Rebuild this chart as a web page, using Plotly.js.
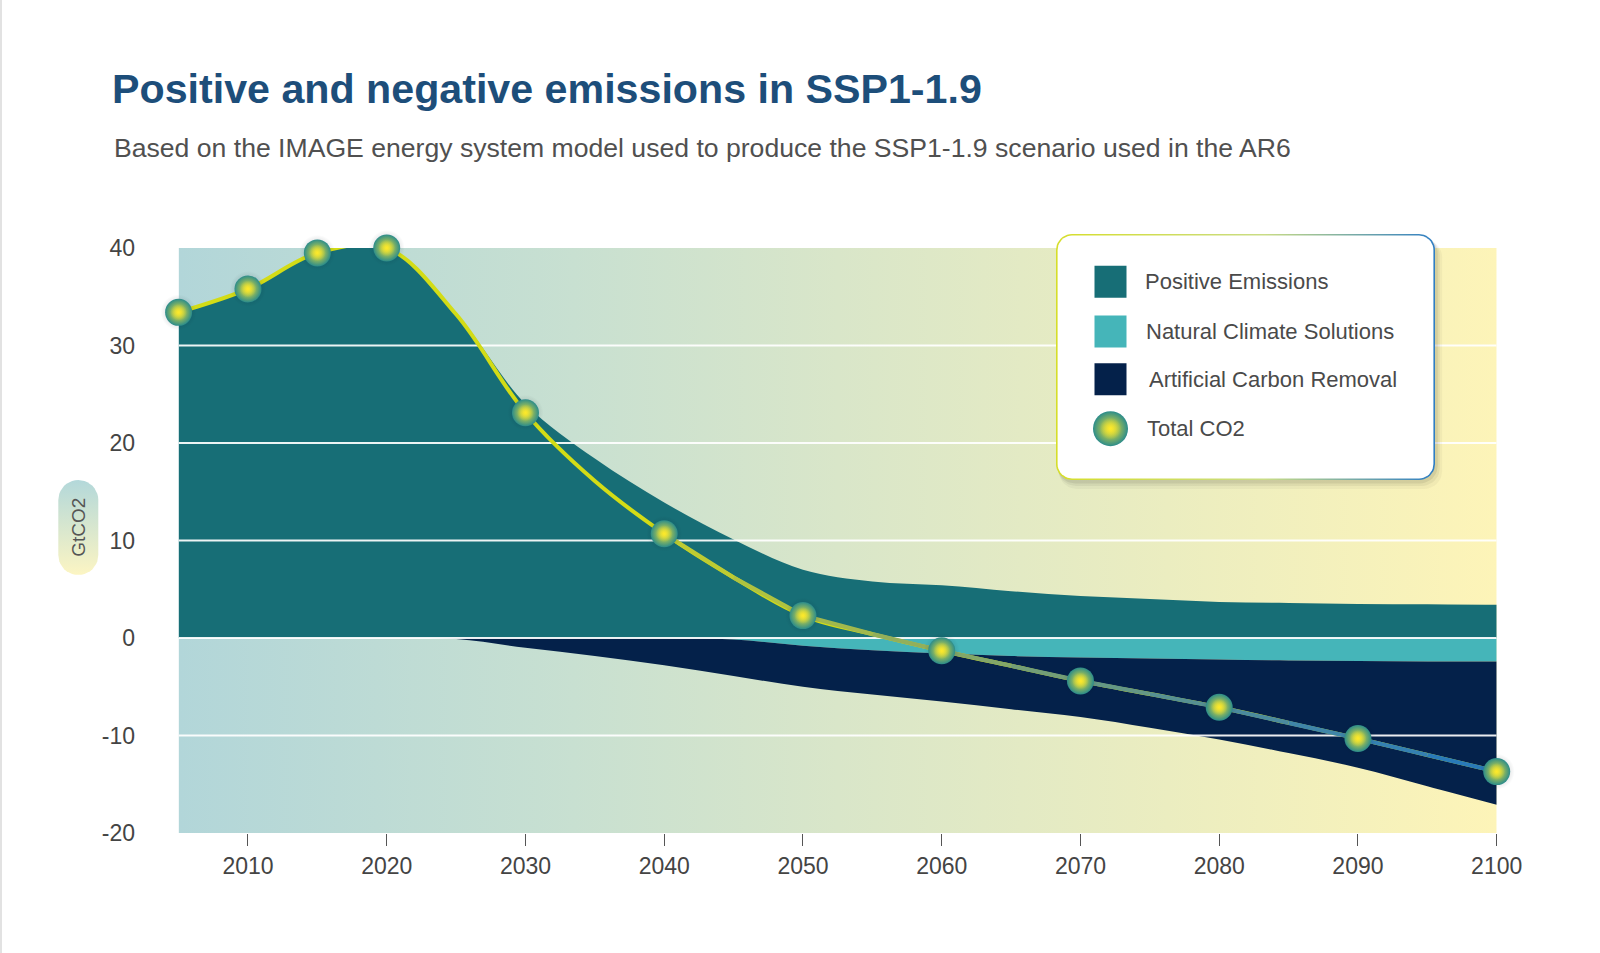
<!DOCTYPE html>
<html>
<head>
<meta charset="utf-8">
<script src="https://cdn.plot.ly/plotly-3.0.1.min.js"></script>
<style>
html,body{margin:0;padding:0;background:#ffffff;}
#chart{width:1600px;height:953px;}
</style>
</head>
<body>
<div id="chart"></div>
<script>
// ---------------- DATA ----------------
const years = [2005, 2010, 2015, 2020, 2025, 2030, 2035, 2040, 2045, 2050,
               2055, 2060, 2065, 2070, 2075, 2080, 2085, 2090, 2095, 2100];
const positiveEmissions = [33.4, 35.8, 39.5, 40.0, 33.3, 24.0, 18.4, 13.9, 10.1, 7.0,
                           5.8, 5.4, 4.8, 4.3, 4.0, 3.7, 3.6, 3.5, 3.45, 3.4];
const naturalClimateSolutions = [0, 0, 0, 0, 0, 0, 0, 0, -0.15, -0.8,
                                 -1.25, -1.6, -1.85, -2.0, -2.1, -2.2, -2.3, -2.35, -2.4, -2.4];
const artificialCarbonRemoval = [0, 0, 0, 0, -0.1, -1.0, -1.85, -2.8, -3.75, -4.2,
                                 -4.55, -4.9, -5.45, -6.1, -7.1, -8.2, -9.5, -10.95, -12.8, -14.7];
const totalCO2 = [33.4, 35.8, 39.5, 40.0, 33.2, 23.1, 16.1, 10.7, 6.2, 2.3,
                  0.4, -1.3, -2.85, -4.4, -5.75, -7.1, -8.7, -10.3, -12.0, -13.7];
const markerYears = [2005, 2010, 2015, 2020, 2030, 2040, 2050, 2060, 2070, 2080, 2090, 2100];
const xTicks = [2010, 2020, 2030, 2040, 2050, 2060, 2070, 2080, 2090, 2100];
const yTicks = [-20, -10, 0, 10, 20, 30, 40];
const legendLabels = ['Positive Emissions', 'Natural Climate Solutions', 'Artificial Carbon Removal', 'Total CO2'];
const titleText = 'Positive and negative emissions in SSP1-1.9';
const subtitleText = 'Based on the IMAGE energy system model used to produce the SSP1-1.9 scenario used in the AR6';
const yTitle = 'GtCO2';

// ---------------- STYLE ----------------
const FONT = 'Liberation Sans, Arial, Helvetica, sans-serif';
const C_POS = '#176e76';
const C_NCS = '#45b5b9';
const C_ACR = '#04214a';
const M_CENTER = '#fde92a';
const M_EDGE = '#2b8c8b';
const W = 1600, H = 953;
const PLOT = {l: 178.6, r: 1496.7, t: 248, b: 833};
const lineStops = [[2005, '#d3dc16'], [2040, '#c4d02c'], [2050, '#a8bd46'], [2060, '#8aaa62'],
                   [2070, '#6b9a7e'], [2080, '#4f8c99'], [2090, '#3983ad'], [2100, '#2477bb']];

function hexToRgb(h){ return [parseInt(h.slice(1,3),16), parseInt(h.slice(3,5),16), parseInt(h.slice(5,7),16)]; }
function colorAt(yr){
  for (let i = 0; i < lineStops.length - 1; i++){
    const [a, ca] = lineStops[i], [b, cb] = lineStops[i+1];
    if (yr >= a && yr <= b){
      const t = (yr - a) / (b - a), A = hexToRgb(ca), B = hexToRgb(cb);
      return 'rgb(' + A.map((v,k)=>Math.round(v + (B[k]-v)*t)).join(',') + ')';
    }
  }
  return lineStops[lineStops.length-1][1];
}
function roundedRect(x0, y0, x1, y1, r){
  const xs = [], ys = [];
  const corners = [[x1-r, y0+r, -90, 0], [x1-r, y1-r, 0, 90], [x0+r, y1-r, 90, 180], [x0+r, y0+r, 180, 270]];
  corners.forEach(([cx, cy, a0, a1]) => {
    for (let k = 0; k <= 10; k++){
      const a = (a0 + (a1-a0)*k/10) * Math.PI/180;
      xs.push(cx + r*Math.cos(a)); ys.push(cy + r*Math.sin(a));
    }
  });
  xs.push(xs[0]); ys.push(ys[0]);
  return {x: xs, y: ys};
}

const xMin = years[0], xMax = years[years.length-1];
const yMin = Math.min(...yTicks), yMax = Math.max(...yTicks);
const traces = [];

// plot background gradient
traces.push({
  x: [xMin, xMax, xMax, xMin, xMin], y: [yMin, yMin, yMax, yMax, yMin],
  mode: 'lines', line: {width: 0}, fill: 'toself',
  fillgradient: {type: 'horizontal', colorscale: [[0, '#b2d6d9'], [0.3, '#c8e0d1'], [0.5, '#d9e6c9'], [0.75, '#ebedc0'], [1, '#fdf4b8']]},
  hoverinfo: 'skip', showlegend: false
});
// positive emissions
traces.push({x: years, y: positiveEmissions, mode: 'lines', line: {width: 0, shape: 'spline'},
  fill: 'tozeroy', fillcolor: C_POS, hoverinfo: 'skip', showlegend: false});
// natural climate solutions
traces.push({x: years, y: naturalClimateSolutions, mode: 'lines', line: {width: 0, shape: 'spline'},
  fill: 'tozeroy', fillcolor: C_NCS, hoverinfo: 'skip', showlegend: false});
// artificial carbon removal stacked beneath NCS
const acrBottom = artificialCarbonRemoval.map((v, i) => v + naturalClimateSolutions[i]);
traces.push({x: years, y: acrBottom, mode: 'lines', line: {width: 0, shape: 'spline'},
  fill: 'tonexty', fillcolor: C_ACR, hoverinfo: 'skip', showlegend: false});
// gridlines above fills
const gx = [], gy = [];
yTicks.filter(v => v > yMin && v < yMax).forEach(v => { gx.push(xMin, xMax, null); gy.push(v, v, null); });
traces.push({x: gx, y: gy, mode: 'lines', line: {color: 'rgba(255,255,255,0.92)', width: 1.8},
  hoverinfo: 'skip', showlegend: false});
// total CO2 line
traces.push({x: years, y: totalCO2, mode: 'lines', line: {color: lineStops[0][1], width: 4, shape: 'spline'},
  hoverinfo: 'skip', showlegend: false});
const startIdx = years.indexOf(2040);
for (let i = startIdx; i < years.length - 1; i++){
  traces.push({x: [years[i], years[i+1]], y: [totalCO2[i], totalCO2[i+1]], mode: 'lines',
    line: {color: colorAt((years[i] + years[i+1]) / 2), width: 4.2}, hoverinfo: 'skip', showlegend: false});
}
// markers (soft shadow + radial-gradient ball)
const mIdx = years.map((y, i) => markerYears.includes(y) ? i : -1).filter(i => i >= 0);
const mx = mIdx.map(i => years[i]), my = mIdx.map(i => totalCO2[i]);
traces.push({x: mx, y: my, mode: 'markers', cliponaxis: false,
  marker: {size: 36, color: 'rgba(0,20,30,0)', gradient: {type: 'radial', color: 'rgba(0,20,30,0.30)'}, line: {width: 0}},
  hoverinfo: 'skip', showlegend: false});
traces.push({x: mx, y: my, mode: 'markers', cliponaxis: false, name: legendLabels[3],
  marker: {size: 27, color: M_EDGE, gradient: {type: 'radial', color: M_CENTER}, line: {width: 0}},
  hoverinfo: 'skip', showlegend: false});
traces.push({x: mx, y: my, mode: 'markers', cliponaxis: false,
  marker: {size: 17, color: 'rgba(253,233,42,0)', gradient: {type: 'radial', color: 'rgba(253,233,42,0.75)'}, line: {width: 0}},
  hoverinfo: 'skip', showlegend: false});

// ---------------- overlay (pixel space) : legend box + y title pill ----------------
const LB = {x0: 1056, y0: 234, x1: 1435, y1: 480, r: 16};
[[9, 0.035], [6, 0.05], [3.5, 0.07]].forEach(([o, a]) => {
  const rr = roundedRect(LB.x0 + o*0.3, LB.y0 + o*0.6, LB.x1 + o*0.8, LB.y1 + o, LB.r + 2);
  traces.push({x: rr.x, y: rr.y, xaxis: 'x2', yaxis: 'y2', mode: 'lines', line: {width: 0},
    fill: 'toself', fillcolor: 'rgba(0,0,0,' + a + ')', hoverinfo: 'skip', showlegend: false});
});
const outer = roundedRect(LB.x0, LB.y0, LB.x1, LB.y1, LB.r);
traces.push({x: outer.x, y: outer.y, xaxis: 'x2', yaxis: 'y2', mode: 'lines', line: {width: 0},
  fill: 'toself', fillgradient: {type: 'horizontal', colorscale: [[0, '#d6de2a'], [0.55, '#c9dc86'], [1, '#2f7ec4']]},
  hoverinfo: 'skip', showlegend: false});
const inner = roundedRect(LB.x0 + 1.6, LB.y0 + 1.6, LB.x1 - 1.6, LB.y1 - 1.6, LB.r - 1.6);
traces.push({x: inner.x, y: inner.y, xaxis: 'x2', yaxis: 'y2', mode: 'lines', line: {width: 0},
  fill: 'toself', fillcolor: '#ffffff', hoverinfo: 'skip', showlegend: false});
const legY = [281.7, 331.5, 379.2, 428.7];
const legSwX = 1110.5;
traces.push({x: [legSwX, legSwX, legSwX], y: legY.slice(0, 3), xaxis: 'x2', yaxis: 'y2', mode: 'markers',
  marker: {symbol: 'square', size: 32, color: [C_POS, C_NCS, C_ACR], line: {width: 0}},
  hoverinfo: 'skip', showlegend: false});
traces.push({x: [legSwX], y: [legY[3]], xaxis: 'x2', yaxis: 'y2', mode: 'markers',
  marker: {size: 35, color: M_EDGE, gradient: {type: 'radial', color: M_CENTER}, line: {width: 0}},
  hoverinfo: 'skip', showlegend: false});
traces.push({x: [legSwX], y: [legY[3]], xaxis: 'x2', yaxis: 'y2', mode: 'markers',
  marker: {size: 22, color: 'rgba(253,233,42,0)', gradient: {type: 'radial', color: 'rgba(253,233,42,0.75)'}, line: {width: 0}},
  hoverinfo: 'skip', showlegend: false});
// y title pill
const pill = roundedRect(58.3, 480, 98.3, 575, 20);
traces.push({x: pill.x, y: pill.y, xaxis: 'x2', yaxis: 'y2', mode: 'lines', line: {width: 0},
  fill: 'toself', fillgradient: {type: 'vertical', colorscale: [[0, '#fcf5c3'], [1, '#b3d8da']]},
  hoverinfo: 'skip', showlegend: false});

const legTextX = [1143, 1144, 1147, 1145];
const annotations = legendLabels.map((t, i) => ({
  text: t, xref: 'x2', yref: 'y2', x: legTextX[i], y: legY[i], xanchor: 'left', yanchor: 'middle',
  showarrow: false, font: {family: FONT, size: 22, color: '#4a4a4a'}
}));
annotations.push({text: yTitle, xref: 'x2', yref: 'y2', x: 78.3, y: 527.5, textangle: -90,
  xanchor: 'center', yanchor: 'middle', showarrow: false, font: {family: FONT, size: 19, color: '#555555'}});
annotations.push({text: subtitleText, xref: 'paper', yref: 'paper', x: 112/W, y: 1 - 148/H,
  xanchor: 'left', yanchor: 'middle', showarrow: false, font: {family: FONT, size: 26.6, color: '#505050'}});

const layout = {
  width: W, height: H,
  margin: {l: 0, r: 0, t: 0, b: 0, pad: 0},
  paper_bgcolor: '#ffffff', plot_bgcolor: 'rgba(0,0,0,0)',
  showlegend: false, hovermode: false,
  font: {family: FONT, color: '#444444'},
  title: {text: titleText, xref: 'paper', yref: 'paper', x: 112/W, xanchor: 'left', y: 1 - 89/H, yanchor: 'middle',
          font: {family: FONT, size: 41.2, weight: 700, color: '#1d4e7a'}},
  xaxis: {domain: [PLOT.l/W, PLOT.r/W], range: [xMin, xMax], tickvals: xTicks, ticktext: xTicks.map(String),
          ticks: 'outside', ticklen: 12, tickwidth: 1, tickcolor: '#555555', showgrid: false, zeroline: false,
          showline: false, tickfont: {family: FONT, size: 23, color: '#444444'}, anchor: 'y', fixedrange: true},
  yaxis: {domain: [1 - PLOT.b/H, 1 - PLOT.t/H], range: [yMin, yMax], tickvals: yTicks, ticktext: yTicks.map(String),
          ticks: 'outside', ticklen: 38, tickcolor: 'rgba(0,0,0,0)', showgrid: false, zeroline: false,
          showline: false, tickfont: {family: FONT, size: 23, color: '#444444'}, anchor: 'x', fixedrange: true},
  xaxis2: {domain: [0, 1], range: [0, W], visible: false, anchor: 'y2', fixedrange: true},
  yaxis2: {domain: [0, 1], range: [H, 0], visible: false, anchor: 'x2', fixedrange: true},
  annotations: annotations,
  shapes: [{type: 'line', xref: 'paper', yref: 'paper', x0: 1/W, x1: 1/W, y0: 0, y1: 1,
            line: {color: '#d8d8d8', width: 1.5}}]
};

Plotly.newPlot('chart', traces, layout, {staticPlot: true, displayModeBar: false});
</script>
</body>
</html>
